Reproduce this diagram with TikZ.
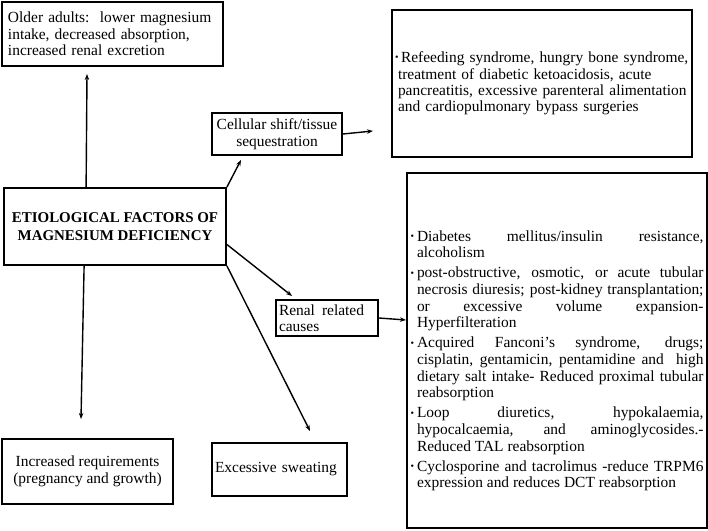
\documentclass[tikz,border=0pt]{standalone}
\usepackage{fontspec}
\setmainfont{Liberation Serif}
\usetikzlibrary{arrows.meta}
\newcommand{\mybul}{\makebox[6.5bp][l]{\raisebox{0.25ex}{\fontsize{10}{10}\selectfont\textbullet}}}
\newcommand{\bulitem}[1]{\par\noindent\hangindent=6.5bp\hangafter=1\mybul#1\par}
\begin{document}
\begin{tikzpicture}[x=1bp,y=-1bp,
  bx/.style={draw, line width=1.8bp, inner sep=0pt, font=\fontsize{15.5}{16.5}\selectfont},
  arr/.style={line width=1.4bp, -{Stealth[length=6bp,width=4.5bp]}}]
\useasboundingbox (0,0) rectangle (708,531);

\node[bx, minimum width=221bp, minimum height=64bp, text width=209bp, align=left] (older) at (112.5,34)
  {Older adults:\ \ lower magnesium\\ intake, decreased absorption,\\ increased renal excretion};

\node[bx, minimum width=130bp, minimum height=42bp, align=center] (cell) at (277,134)
  {Cellular shift/tissue\\ sequestration};

\node[bx, minimum width=300bp, minimum height=147bp, text width=294bp, align=left] (refeed) at (542,83.5)
  {\hangindent=9bp\hangafter=1\makebox[6bp][l]{\raisebox{0.25ex}{\fontsize{10}{10}\selectfont\textbullet}}Refeeding syndrome, hungry bone syndrome,\\ \hspace*{3bp}treatment of diabetic ketoacidosis, acute\\ \hspace*{3bp}pancreatitis, excessive parenteral alimentation\\ \hspace*{3bp}and cardiopulmonary bypass surgeries};

\node[bx, minimum width=222bp, minimum height=77bp, align=center, font=\fontsize{15}{18}\selectfont\bfseries] (etio) at (115,226.5)
  {ETIOLOGICAL FACTORS OF\\ MAGNESIUM DEFICIENCY};

\node[bx, minimum width=102bp, minimum height=36bp, text width=96bp, align=left] (renal) at (327,318)
  {Renal\hspace{7bp}related\\ causes};

\node[bx, minimum width=300bp, minimum height=355bp] (renlist) at (557,350.5)
  {\parbox{293bp}{\vspace*{17bp}\hyphenpenalty=10000\exhyphenpenalty=10000\emergencystretch=20bp\fontsize{15.5}{16.7}\selectfont\parskip=3.5bp
  \bulitem{Diabetes mellitus/insulin resistance,\linebreak alcoholism}
  \bulitem{post-obstructive, osmotic, or acute tubular\linebreak necrosis diuresis; post-kidney transplantation;\linebreak or excessive volume expansion-\linebreak Hyperfilteration}
  \bulitem{Acquired Fanconi’s syndrome, drugs;\linebreak cisplatin, gentamicin, pentamidine and\ \ high\linebreak dietary salt intake- Reduced proximal tubular\linebreak reabsorption}
  \bulitem{Loop diuretics, hypokalaemia,\linebreak hypocalcaemia, and aminoglycosides.-\linebreak Reduced TAL reabsorption}
  \bulitem{Cyclosporine and tacrolimus -reduce TRPM6\linebreak expression and reduces DCT reabsorption}}};

\node[bx, minimum width=171bp, minimum height=65bp, align=center] (incr) at (87.5,471.5)
  {Increased requirements\\ (pregnancy and growth)};

\node[bx, minimum width=135bp, minimum height=53bp, text width=129bp, align=left] (sweat) at (279.5,469.5)
  {Excessive sweating};

\coordinate (e1) at (87,74);
\coordinate (e2) at (241,160);
\coordinate (e3) at (373,131);
\coordinate (e4) at (292,296);
\coordinate (e5) at (310,431);
\coordinate (e6) at (81,419);
\coordinate (e7) at (406,320);

\draw[arr] (etio.north west) ++(83,0) coordinate (s1) -- (e1);
\draw[arr] (etio.north east) -- (e2);
\draw[arr] (cell.east) -- (e3);
\draw[arr] (etio.east) ++(0,18) coordinate (s4) -- (e4);
\draw[arr] (etio.south east) -- (e5);
\draw[arr] (etio.south west) ++(81,0) coordinate (s6) -- (e6);
\draw[arr] (renal.east) -- (e7);
\end{tikzpicture}
\end{document}
